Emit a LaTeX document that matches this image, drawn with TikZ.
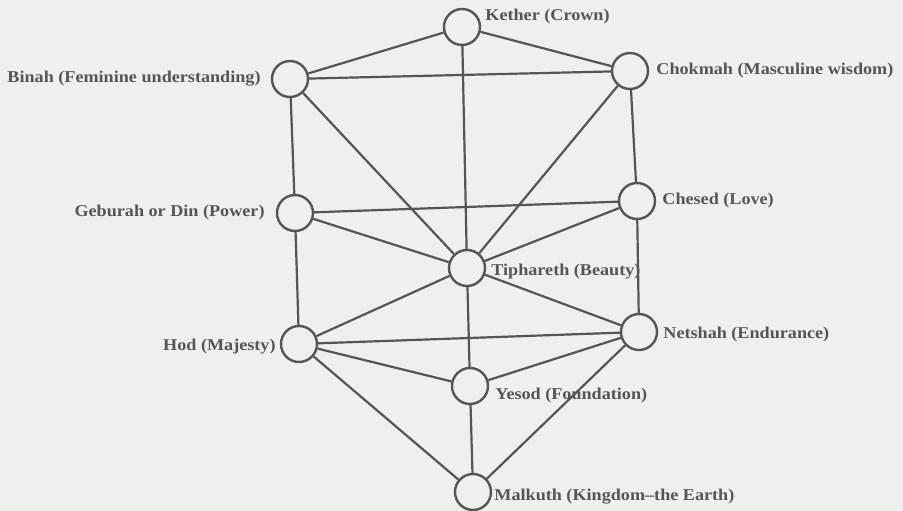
\documentclass[tikz,border=0pt]{standalone}
\usepackage{fontspec}
\setmainfont{Liberation Serif}[FakeStretch=1.1]
\usetikzlibrary{positioning}
\definecolor{paper}{HTML}{EFEFEC}
\definecolor{ink}{HTML}{555555}
\tikzset{
  sefira/.style={circle, draw=ink, line width=2.4pt, minimum size=36pt, inner sep=0pt},
  pathline/.style={draw=ink, line width=2.2pt},
  sefiralabel/.style={text=ink, font=\fontsize{16.5}{19}\selectfont\bfseries, inner sep=0pt}
}
\begin{document}
\begin{tikzpicture}[x=1pt, y=-1pt]
  % Paper
  \fill[paper] (0,0) rectangle (903,511);
  \useasboundingbox (0,0) rectangle (903,511);

  % Sefirot
  \node[sefira] (kether) at (462,27) {};
  \node[sefira] (chokmah) at (630,71) {};
  \node[sefira] (binah) at (290,79) {};
  \node[sefira] (chesed) at (637,201) {};
  \node[sefira] (geburah) at (295,213) {};
  \node[sefira] (tiphareth) at (467,268) {};
  \node[sefira] (netshah) at (639,332) {};
  \node[sefira] (hod) at (299,344) {};
  \node[sefira] (yesod) at (470,386) {};
  \node[sefira] (malkuth) at (473,492) {};

  % Paths
  \foreach \a/\b in {kether/chokmah, kether/binah, kether/tiphareth, binah/chokmah,
      binah/geburah, binah/tiphareth, chokmah/chesed, chokmah/tiphareth,
      geburah/chesed, geburah/tiphareth, geburah/hod, chesed/tiphareth, chesed/netshah,
      tiphareth/hod, tiphareth/netshah, tiphareth/yesod, hod/netshah, hod/yesod,
      hod/malkuth, netshah/yesod, netshah/malkuth, yesod/malkuth}
    \draw[pathline] (\a) -- (\b);

  % Labels
  \node[sefiralabel, right=4pt of kether, yshift=10pt] (ketherL) {Kether (Crown)};
  \node[sefiralabel, right=7pt of chokmah] (chokmahL) {Chokmah (Masculine wisdom)};
  \node[sefiralabel, left=10pt of binah] (binahL) {Binah (Feminine understanding)};
  \node[sefiralabel, right=6pt of chesed] (chesedL) {Chesed (Love)};
  \node[sefiralabel, left=11pt of geburah] (geburahL) {Geburah or Din (Power)};
  \node[sefiralabel, right=5pt of tiphareth, yshift=-4pt] (tipharethL) {Tiphareth (Beauty)};
  \node[sefiralabel, left=4pt of hod, yshift=-3pt] (hodL) {Hod (Majesty)};
  \node[sefiralabel, right=5pt of netshah, yshift=-3pt] (netshahL) {Netshah (Endurance)};
  \node[sefiralabel, right=6pt of yesod, yshift=-10pt] (yesodL) {Yesod (Foundation)};
  \node[sefiralabel, right=2pt of malkuth, yshift=-5pt] (malkuthL) {Malkuth (Kingdom--the Earth)};
\end{tikzpicture}
\end{document}
